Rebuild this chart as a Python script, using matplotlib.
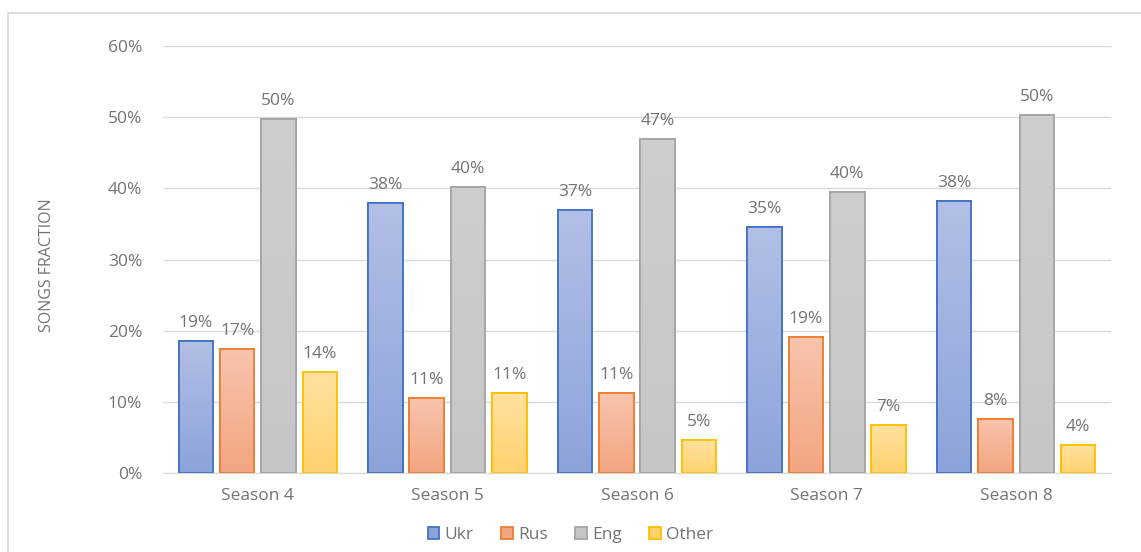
import matplotlib
matplotlib.use("Agg")
import matplotlib.pyplot as plt
import numpy as np
from matplotlib.colors import LinearSegmentedColormap
from matplotlib.patches import Rectangle
from matplotlib.ticker import PercentFormatter

SEASONS = ["Season 4", "Season 5", "Season 6", "Season 7", "Season 8"]
SERIES = ["Ukr", "Rus", "Eng", "Other"]
UKR = [18.6, 37.9, 36.9, 34.6, 38.2]
RUS = [17.4, 10.6, 11.2, 19.1, 7.6]
ENG = [49.7, 40.2, 47.0, 39.5, 50.3]
OTHER = [14.2, 11.2, 4.6, 6.7, 3.9]

# (top colour, bottom colour, edge colour)
STYLES = [
    ("#b2bfe6", "#8ca3da", "#4472c4"),
    ("#f8c4ad", "#f3a581", "#ed7d31"),
    ("#cecece", "#c6c6c6", "#a5a5a5"),
    ("#ffe1a0", "#ffd26e", "#ffc000"),
]

TEXT = "#737373"
GRID = "#d9d9d9"

plt.rcParams['font.family'] = ['Open Sans', 'DejaVu Sans']

fig = plt.figure(figsize=(11.41, 5.52), dpi=100)
ax = fig.add_axes([163 / 1141, 1 - 473 / 552, 948 / 1141, 427 / 552])

fig.patches.append(Rectangle((8 / 1141, -0.05), 1.1, 1 - 13 / 552 + 0.05,
                             transform=fig.transFigure, fill=False,
                             edgecolor=GRID, linewidth=1.2))

x = np.arange(len(SEASONS))
width = 0.182
pitch = 0.218
data = [UKR, RUS, ENG, OTHER]

for i, (vals, name, (c_top, c_bot, c_edge)) in enumerate(zip(data, SERIES, STYLES)):
    pos = x + (i - 1.5) * pitch
    bars = ax.bar(pos, vals, width, color=c_bot, edgecolor=c_edge,
                  linewidth=1.3, label=name, zorder=3)
    cmap = LinearSegmentedColormap.from_list(name, [c_bot, c_top])
    for b, v in zip(bars, vals):
        grad = np.linspace(0, 1, 100).reshape(-1, 1)
        im = ax.imshow(grad, cmap=cmap, origin='lower', aspect='auto',
                       extent=[b.get_x(), b.get_x() + b.get_width(), 0, v],
                       zorder=3.5)
        im.set_clip_path(b)
        ax.add_patch(Rectangle((b.get_x(), 0), b.get_width(), v, fill=False,
                               edgecolor=c_edge, linewidth=1.3, zorder=4))
        ax.text(b.get_x() + b.get_width() / 2, v + 1.4, f"{int(v + 0.5)}%",
                ha='center', va='bottom', color=TEXT, fontsize=12.5)

ax.set_xlim(-0.5, len(SEASONS) - 0.5)
ax.set_ylim(0, 60)
ax.set_yticks(np.arange(0, 61, 10))
ax.yaxis.set_major_formatter(PercentFormatter(decimals=0))
ax.set_xticks(x)
ax.set_xticklabels(SEASONS)
ax.tick_params(axis='both', length=0, colors=TEXT, labelsize=12.5)
ax.tick_params(axis='y', pad=15)
ax.tick_params(axis='x', pad=11)
ax.grid(axis='y', color=GRID, linewidth=1, zorder=0)
ax.set_axisbelow(True)
for s in ['top', 'right', 'left']:
    ax.spines[s].set_visible(False)
ax.spines['bottom'].set_color(GRID)
ax.set_ylabel("SONGS FRACTION", color=TEXT, fontsize=11.5)
ax.yaxis.set_label_coords(55 / 1141, 1 - 265 / 552, transform=fig.transFigure)

handles, labels = ax.get_legend_handles_labels()
leg = fig.legend(handles, labels, loc='center', bbox_to_anchor=(0.5, 1 - 535 / 552),
                 ncol=4, frameon=False, fontsize=12.5, handlelength=0.65,
                 handleheight=0.65, handletextpad=0.3, columnspacing=1.6)
for t in leg.get_texts():
    t.set_color(TEXT)

fig.savefig("out.png", dpi=100)
